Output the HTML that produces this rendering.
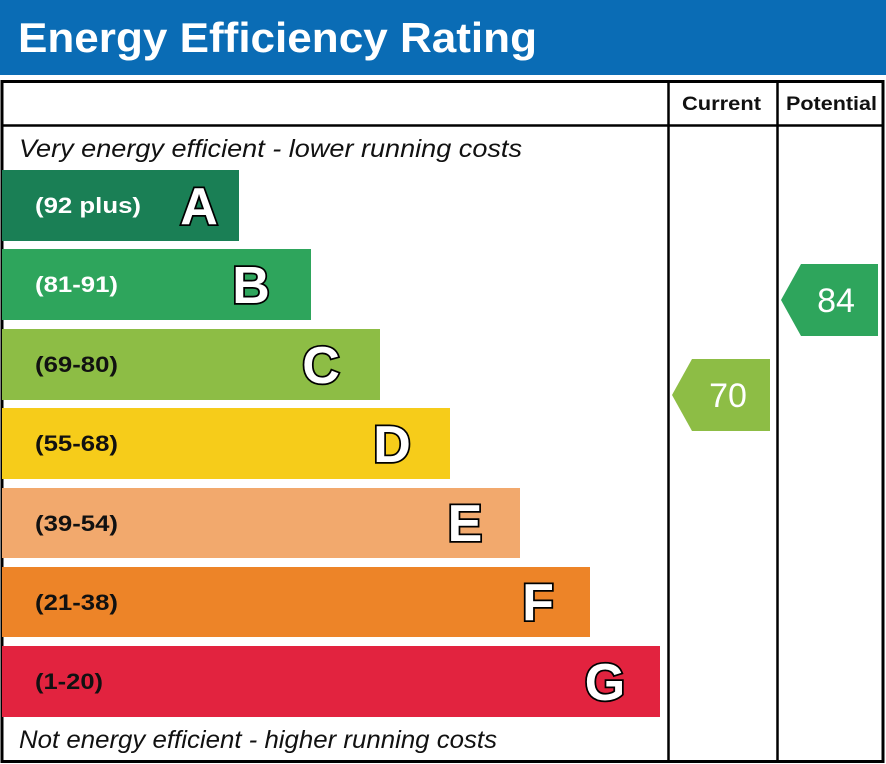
<!DOCTYPE html>
<html><head><style>body{margin:0;background:#fff}svg{display:block}text{font-family:"Liberation Sans",Arial,sans-serif}</style></head><body>
<svg width="886" height="764" xmlns="http://www.w3.org/2000/svg">
<rect x="0" y="0" width="886" height="75" fill="#0a6cb5"/>
<text x="18" y="52" font-size="42" font-weight="bold" fill="#fff" textLength="519" lengthAdjust="spacingAndGlyphs">Energy Efficiency Rating</text>
<rect x="2" y="81.5" width="881" height="680" fill="none" stroke="#000" stroke-width="3"/>
<line x1="2" y1="125.5" x2="883" y2="125.5" stroke="#000" stroke-width="2.5"/>
<line x1="668.5" y1="81" x2="668.5" y2="762" stroke="#000" stroke-width="2.5"/>
<line x1="777.5" y1="81" x2="777.5" y2="762" stroke="#000" stroke-width="2.5"/>
<text x="682" y="110" font-size="19" font-weight="bold" fill="#111" textLength="79" lengthAdjust="spacingAndGlyphs">Current</text>
<text x="786" y="110" font-size="19" font-weight="bold" fill="#111" textLength="91" lengthAdjust="spacingAndGlyphs">Potential</text>
<text x="19" y="157" font-size="25" font-style="italic" fill="#111" textLength="503" lengthAdjust="spacingAndGlyphs">Very energy efficient - lower running costs</text>
<text x="19" y="748" font-size="25" font-style="italic" fill="#111" textLength="478" lengthAdjust="spacingAndGlyphs">Not energy efficient - higher running costs</text>
<g font-weight="bold" font-size="22">
<rect x="2" y="170" width="237" height="71" fill="#1a7f55"/><text x="35" y="213" fill="#fff" textLength="106" lengthAdjust="spacingAndGlyphs">(92 plus)</text>
<rect x="2" y="249" width="309" height="71" fill="#2ea55c"/><text x="35" y="292" fill="#fff" textLength="83" lengthAdjust="spacingAndGlyphs">(81-91)</text>
<rect x="2" y="329" width="378" height="71" fill="#8dbd45"/><text x="35" y="372" fill="#111" textLength="83" lengthAdjust="spacingAndGlyphs">(69-80)</text>
<rect x="2" y="408" width="448" height="71" fill="#f6cc1a"/><text x="35" y="451" fill="#111" textLength="83" lengthAdjust="spacingAndGlyphs">(55-68)</text>
<rect x="2" y="488" width="518" height="70" fill="#f2a96d"/><text x="35" y="531" fill="#111" textLength="83" lengthAdjust="spacingAndGlyphs">(39-54)</text>
<rect x="2" y="567" width="588" height="70" fill="#ed8428"/><text x="35" y="610" fill="#111" textLength="83" lengthAdjust="spacingAndGlyphs">(21-38)</text>
<rect x="2" y="646" width="658" height="71" fill="#e2233f"/><text x="35" y="689" fill="#111" textLength="68" lengthAdjust="spacingAndGlyphs">(1-20)</text>
</g>
<g font-weight="bold" font-size="52" fill="#fff" stroke="#000" stroke-width="3.5" paint-order="stroke" text-anchor="middle">
<text x="199" y="224">A</text>
<text x="251" y="303">B</text>
<text x="321" y="383">C</text>
<text x="392" y="462">D</text>
<text x="465" y="541">E</text>
<text x="538" y="620">F</text>
<text x="605" y="700">G</text>
</g>
<polygon points="781,300 801,264 878,264 878,336 801,336" fill="#2ea55c"/>
<text x="836" y="312" font-size="34" fill="#fff" text-anchor="middle">84</text>
<polygon points="672,395 692,359 770,359 770,431 692,431" fill="#8dbd45"/>
<text x="728" y="407" font-size="34" fill="#fff" text-anchor="middle">70</text>
</svg>
</body></html>
